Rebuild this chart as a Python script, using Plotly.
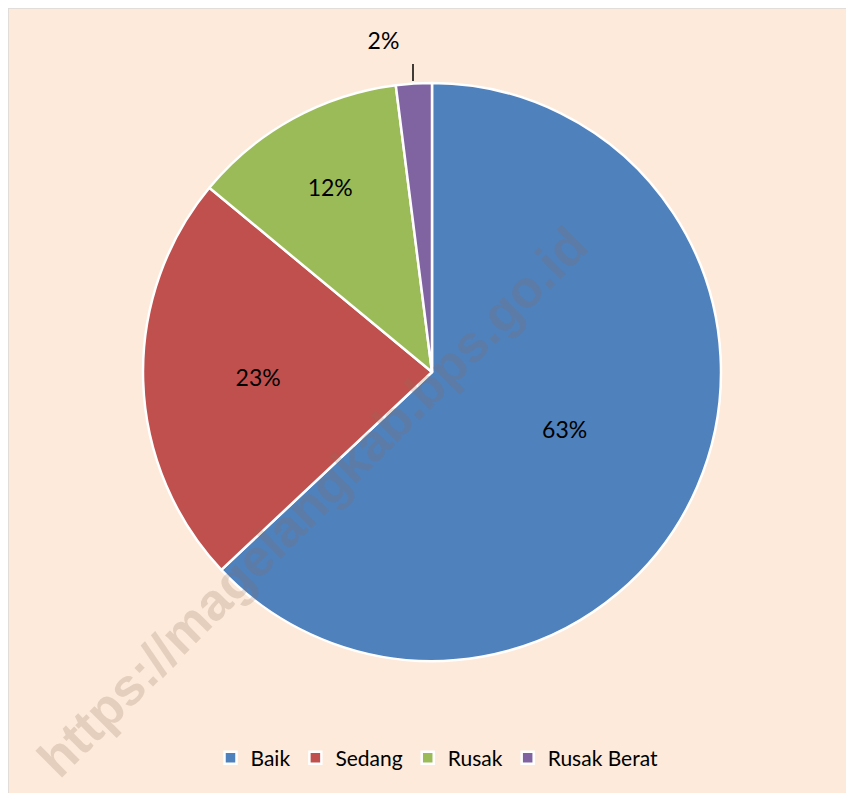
import plotly.graph_objects as go

categories = ["Baik", "Sedang", "Rusak", "Rusak Berat"]
values = [63, 23, 12, 2]
colors = ["#4F81BD", "#C0504D", "#9BBB59", "#8064A2"]
text_positions = ["inside", "inside", "inside", "outside"]
label_templates = ["%{percent:.0%}", "%{percent:.0%}", "%{percent:.0%}", "%{percent:.0%}<br> "]
watermark = "https://magelangkab.bps.go.id"

# page body has an 8px margin: work in window pixels and convert
OFF = 8
W, H = 854 - OFF, 793 - OFF

def px_x(x):
    return (x - OFF) / W

def px_y(y):
    return 1 - (y - OFF) / H

cx, cy, r = 432, 372, 289

fig = go.Figure(go.Pie(
    labels=categories,
    values=values,
    marker=dict(colors=colors, line=dict(color="white", width=2.5)),
    sort=False,
    direction="clockwise",
    rotation=0,
    texttemplate=label_templates,
    textposition=text_positions,
    insidetextorientation="horizontal",
    textfont=dict(family="Lato", size=23, color="black"),
    domain=dict(x=[px_x(cx - r), px_x(cx + r)], y=[px_y(cy + r), px_y(cy - r)]),
    hoverinfo="label+percent",
))

fig.update_layout(
    width=W, height=H,
    margin=dict(l=0, r=0, t=0, b=0),
    paper_bgcolor="white",
    font=dict(family="Lato", size=21, color="black"),
    showlegend=True,
    legend=dict(orientation="h", x=px_x(437), xanchor="center", y=px_y(758), yanchor="middle",
                bgcolor="rgba(0,0,0,0)", font=dict(family="Lato", size=21, color="black"),
                itemclick=False),
    shapes=[
        dict(type="rect", xref="paper", yref="paper", x0=0, x1=1.01, y0=-0.01, y1=1,
             fillcolor="#FDEADA", line=dict(color="#D9D9D9", width=1.5), layer="below"),
        dict(type="line", xref="paper", yref="paper", x0=px_x(413), x1=px_x(413),
             y0=px_y(64), y1=px_y(81), line=dict(color="black", width=1.5)),
    ],
    annotations=[
        dict(text="<b>" + watermark + "</b>", xref="paper", yref="paper", x=px_x(312), y=px_y(502),
             showarrow=False, textangle=-45,
             font=dict(family="Liberation Sans", size=52, color="rgba(140,110,90,0.22)"),
             xanchor="center", yanchor="middle"),
    ],
)

fig.write_html("out.html")
